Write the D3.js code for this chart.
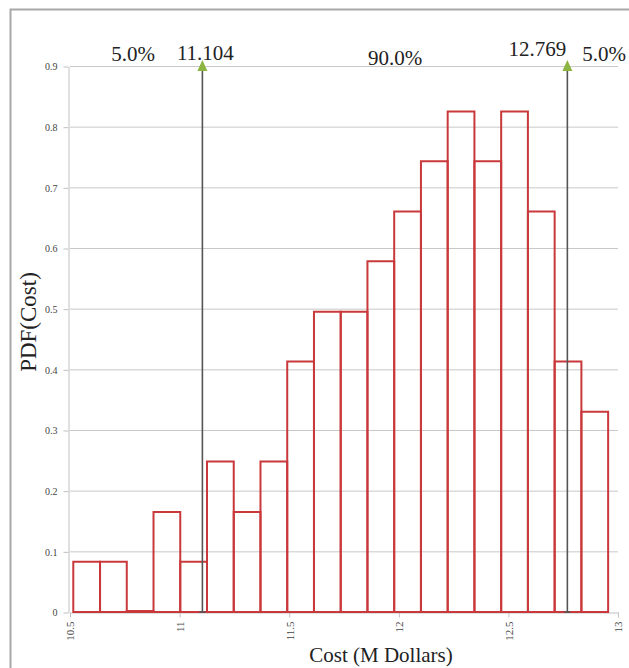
<!DOCTYPE html>
<html lang="en">
<head>
<meta charset="utf-8">
<script src="https://cdn.jsdelivr.net/npm/d3@7"></script>
<title>PDF(Cost)</title>
<style>
  body { margin: 0; background: #fff; }
  text { font-family: "Liberation Serif", "DejaVu Serif", serif; fill: #222; }
  .grid line { stroke: #c8c8c8; stroke-width: 1; }
  .axis path, .axis line { stroke: #c0c0c0; }
  .axis text { font-size: 10px; fill: #444; }
  .bar { fill: none; stroke: #c9383a; stroke-width: 2; stroke-linejoin: miter; }
  .marker { stroke: #555; stroke-width: 1.6; }
  .arrow { fill: #8cb440; }
</style>
</head>
<body>
<div id="chart"></div>
<script>
// histogram bins (lower edge of first bin, width of each bin)
var binStart = 10.515;
var binWidth = 0.122;
var pdf = [0.083, 0.083, 0, 0.165, 0.083, 0.248, 0.165, 0.248, 0.413, 0.495,
           0.495, 0.578, 0.66, 0.743, 0.825, 0.743, 0.825, 0.66, 0.413, 0.33];

var xTicks = [10.5, 11, 11.5, 12, 12.5, 13];
var yTicks = [0, 0.1, 0.2, 0.3, 0.4, 0.5, 0.6, 0.7, 0.8, 0.9];

// percentile markers
var markers = [11.104, 12.769];
var bandLabels = ["5.0%", "90.0%", "5.0%"];

var width = 629, height = 668;

var svg = d3.select("#chart").append("svg")
  .attr("width", width)
  .attr("height", height);

// outer frame
svg.append("rect")
  .attr("x", 10.5).attr("y", 9.5)
  .attr("width", 700).attr("height", 700)
  .attr("fill", "none")
  .attr("stroke", "#a8a8a8")
  .attr("stroke-width", 2);

var x = d3.scaleLinear().domain([10.5, 13]).range([70, 618]);
var y = d3.scaleLinear().domain([0, 0.9]).range([612, 66]);

// gridlines
svg.append("g").attr("class", "grid")
  .selectAll("line")
  .data(yTicks.slice(1))
  .enter().append("line")
  .attr("x1", x(10.5)).attr("x2", x(13))
  .attr("y1", function(d) { return y(d) + 0.5; })
  .attr("y2", function(d) { return y(d) + 0.5; });

// y axis
var yAxis = svg.append("g").attr("class", "axis")
  .attr("transform", "translate(" + (x(10.5) - 1.5) + ",0.5)")
  .call(d3.axisLeft(y).tickValues(yTicks).tickSize(5).tickSizeOuter(0)
    .tickFormat(function(d) { return d === 0 ? "0" : d3.format(".1f")(d); }));
yAxis.selectAll("text").attr("dx", "-3");

// x axis
var xAxis = svg.append("g").attr("class", "axis")
  .attr("transform", "translate(0," + (y(0) + 0.5) + ")")
  .call(d3.axisBottom(x).tickValues(xTicks).tickSize(5).tickSizeOuter(0)
    .tickFormat(function(d) { return String(d); }));
xAxis.selectAll("text")
  .attr("transform", "rotate(-90)")
  .attr("text-anchor", "end")
  .attr("x", -9)
  .attr("y", 0)
  .attr("dy", "0.35em")
  .style("font-size", "11px");

// histogram (paths so an empty bin still shows its base line)
svg.append("g")
  .selectAll("path")
  .data(pdf)
  .enter().append("path")
  .attr("class", "bar")
  .attr("d", function(d, i) {
    var x0 = x(binStart + i * binWidth), x1 = x(binStart + (i + 1) * binWidth);
    var y0 = y(0), y1 = y(d);
    if (d === 0) y1 = y0 - 1;
    return "M" + x0 + "," + y0 + "L" + x0 + "," + y1 + "L" + x1 + "," + y1 + "L" + x1 + "," + y0 + "Z";
  });

// percentile marker lines with arrows
var mk = svg.append("g").selectAll("g")
  .data(markers)
  .enter().append("g");
mk.append("line")
  .attr("class", "marker")
  .attr("x1", function(d) { return x(d); })
  .attr("x2", function(d) { return x(d); })
  .attr("y1", y(0))
  .attr("y2", y(0.9) + 4);
mk.append("path")
  .attr("class", "arrow")
  .attr("d", function(d) {
    var cx = x(d), t = y(0.9) - 6;
    return "M" + cx + "," + t + "L" + (cx + 5) + "," + (t + 11) + "L" + (cx - 5) + "," + (t + 11) + "Z";
  });
mk.append("line")
  .attr("class", "marker")
  .attr("x1", function(d) { return x(d) - 3; })
  .attr("x2", function(d) { return x(d) + 3; })
  .attr("y1", y(0)).attr("y2", y(0));

// marker value labels
svg.append("text")
  .attr("x", x(markers[0]) + 3).attr("y", 60)
  .attr("text-anchor", "middle")
  .style("font-size", "21px")
  .text(markers[0].toFixed(3));
svg.append("text")
  .attr("x", x(markers[1]) - 1).attr("y", 56)
  .attr("text-anchor", "end")
  .style("font-size", "21px")
  .text(markers[1].toFixed(3));

// band percentages
svg.append("text")
  .attr("x", 133).attr("y", 61)
  .attr("text-anchor", "middle")
  .style("font-size", "21px")
  .text(bandLabels[0]);
svg.append("text")
  .attr("x", 395).attr("y", 65)
  .attr("text-anchor", "middle")
  .style("font-size", "21px")
  .text(bandLabels[1]);
svg.append("text")
  .attr("x", 604).attr("y", 61)
  .attr("text-anchor", "middle")
  .style("font-size", "21px")
  .text(bandLabels[2]);

// axis titles
svg.append("text")
  .attr("x", 381).attr("y", 662)
  .attr("text-anchor", "middle")
  .style("font-size", "21px")
  .text("Cost (M Dollars)");
svg.append("text")
  .attr("transform", "translate(36,322) rotate(-90)")
  .attr("text-anchor", "middle")
  .style("font-size", "23px")
  .text("PDF(Cost)");
</script>
</body>
</html>
